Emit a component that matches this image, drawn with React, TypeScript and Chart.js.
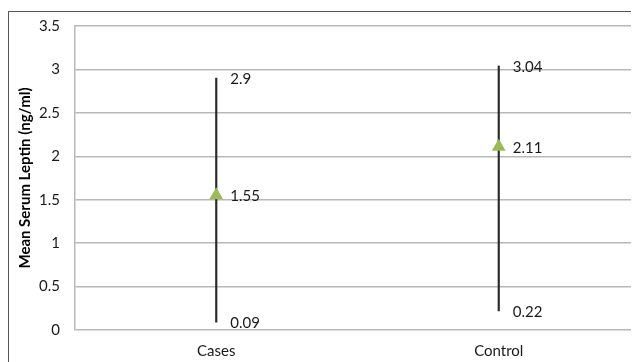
import React, { useEffect, useRef } from "react";
import { Chart, registerables } from "chart.js";

Chart.register(...registerables);

const categories = ["Cases", "Control"];
const lowValues = [0.09, 0.22];
const highValues = [2.9, 3.04];
const meanValues = [1.55, 2.11];
const yTicks = [0, 0.5, 1, 1.5, 2, 2.5, 3, 3.5];
const yTitle = "Mean Serum Leptin (ng/ml)";

const FONT = "Lato, 'Open Sans', sans-serif";
const TEXT = "#1a1a1a";

export default function App() {
  const ref = useRef<HTMLCanvasElement | null>(null);

  useEffect(() => {
    document.body.style.overflow = "hidden";
    document.documentElement.style.overflow = "hidden";
    const canvas = ref.current!;
    const labelPlugin = {
      id: "valueLabels",
      afterDatasetsDraw(chart: any) {
        const { ctx, scales } = chart;
        const xs = scales.x;
        const ys = scales.y;
        ctx.save();
        ctx.font = `15px ${FONT}`;
        ctx.fillStyle = TEXT;
        ctx.textAlign = "left";
        ctx.textBaseline = "middle";
        categories.forEach((_, i) => {
          const x = xs.getPixelForValue(i) + 14;
          [highValues[i], meanValues[i], lowValues[i]].forEach((v) => {
            ctx.fillText(String(v), x, ys.getPixelForValue(v) + 1);
          });
        });
        ctx.restore();
      },
    };

    const chart = new Chart(canvas, {
      type: "bar",
      data: {
        labels: categories,
        datasets: [
          {
            type: "bar",
            data: categories.map((_, i) => [lowValues[i], highValues[i]]),
            backgroundColor: "#2a2a2a",
            borderWidth: 0,
            barThickness: 1.5,
            order: 1,
          } as any,
          {
            type: "line",
            data: meanValues,
            showLine: false,
            pointStyle: "triangle",
            pointRadius: 8,
            pointBackgroundColor: "#9bbb59",
            pointBorderColor: "#9bbb59",
            pointBorderWidth: 0,
            order: 0,
          } as any,
        ],
      },
      options: {
        responsive: false,
        animation: false,
        layout: { padding: { top: 18, left: 0, right: 5, bottom: 0 } },
        plugins: {
          legend: { display: false },
          tooltip: { enabled: false },
        },
        scales: {
          x: {
            grid: { display: false, drawTicks: false },
            border: { display: false },
            ticks: { color: TEXT, font: { family: FONT, size: 15 }, padding: 12 },
            afterFit(scale: any) {
              scale.height = 32;
            },
          },
          y: {
            min: 0,
            max: 3.5,
            afterBuildTicks(scale: any) {
              scale.ticks = yTicks.map((v) => ({ value: v }));
            },
            grid: { color: "#b8b8b8", lineWidth: 1.5, drawTicks: false },
            border: { display: true, color: "#b8b8b8", width: 1.5 },
            ticks: {
              color: TEXT,
              font: { family: FONT, size: 15 },
              padding: 15,
              callback: (v: any) => String(v),
            },
            title: {
              display: true,
              text: yTitle,
              color: "#000",
              font: { family: FONT, size: 15, weight: "bold" },
              padding: { top: 8, bottom: 0 },
            },
            afterFit(scale: any) {
              scale.width = 67;
              scale.paddingTop = 0;
              scale.paddingBottom = 0;
            },
          },
        },
      },
      plugins: [labelPlugin],
    } as any);
    return () => chart.destroy();
  }, []);

  return (
    <div style={{ position: "relative", width: 631, height: 354, overflow: "hidden" }}>
      <div
        style={{
          position: "absolute",
          top: 3,
          left: 0,
          width: 700,
          height: 400,
          border: "1px solid #555",
          boxSizing: "border-box",
        }}
      />
      <canvas
        ref={ref}
        width={640}
        height={354}
        style={{ position: "absolute", left: 0, top: 0, width: 640, height: 354 }}
      />
    </div>
  );
}
